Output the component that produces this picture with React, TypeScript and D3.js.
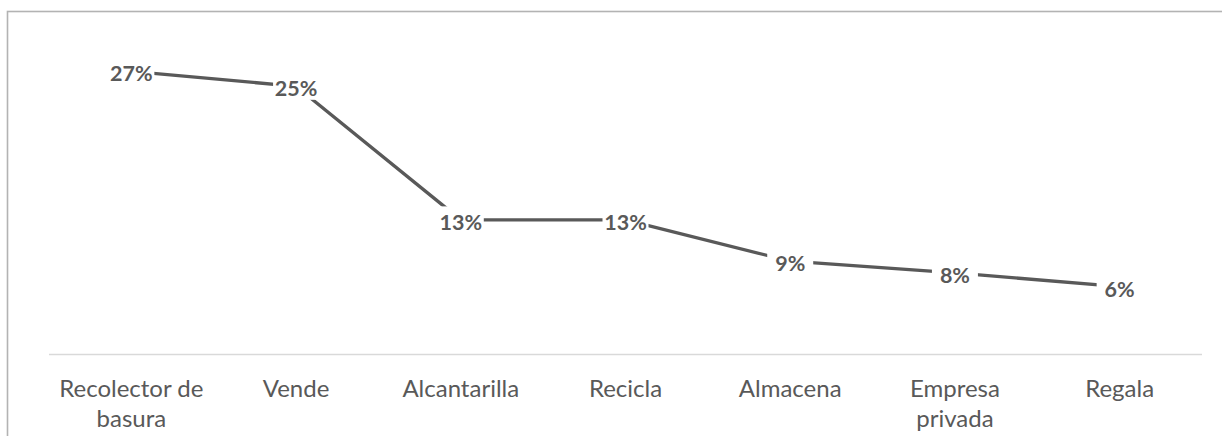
import React from "react";
import * as d3 from "d3";

// Destination of collected waste, share of responses
const categories = [
  "Recolector de basura",
  "Vende",
  "Alcantarilla",
  "Recicla",
  "Almacena",
  "Empresa privada",
  "Regala",
];
const shares = [26.7, 25.3, 12.7, 12.7, 8.8, 7.7, 6.4];
// Axis labels split into lines as they wrap under each category
const categoryLines = [
  ["Recolector de", "basura"],
  ["Vende"],
  ["Alcantarilla"],
  ["Recicla"],
  ["Almacena"],
  ["Empresa", "privada"],
  ["Regala"],
];
const yDomain = [0, 30];

const W = 1222;
const H = 436;
const FONT = "Lato, 'Open Sans', sans-serif";
const INK = "#595959";

export default function App() {
  const x = d3
    .scalePoint<string>()
    .domain(categories)
    .range([49, 1202])
    .padding(0.5);
  const y = d3.scaleLinear().domain(yDomain).range([354.5, 36.5]);

  const points = categories.map((c, i) => ({
    cat: c,
    v: shares[i],
    px: x(c) as number,
    py: y(shares[i]),
  }));

  const line = d3
    .line<{ px: number; py: number }>()
    .x((d) => d.px)
    .y((d) => d.py);

  const boxW = 46;
  const boxH = 27;

  return (
    <svg
      width={W}
      height={H}
      viewBox={`0 0 ${W} ${H}`}
      style={{ position: "absolute", left: 0, top: 0, background: "#fff" }}
    >
      <rect x={0} y={0} width={W} height={H} fill="#ffffff" />
      {/* chart frame, open to the right and bottom */}
      <rect
        x={7.5}
        y={11.5}
        width={W + 20}
        height={H + 20}
        fill="none"
        stroke="#b3b3b3"
        strokeWidth={1.6}
      />
      {/* category axis */}
      <line
        x1={x.range()[0]}
        x2={x.range()[1]}
        y1={y(0)}
        y2={y(0)}
        stroke="#d9d9d9"
        strokeWidth={1.5}
      />
      {categories.map((c, i) => (
        <text
          key={c}
          x={x(c) as number}
          y={y(0) + 42}
          textAnchor="middle"
          fontFamily={FONT}
          fontSize={24}
          fill={INK}
        >
          {categoryLines[i].map((ln, j) => (
            <tspan key={j} x={x(c) as number} dy={j === 0 ? 0 : 30}>
              {ln}
            </tspan>
          ))}
        </text>
      ))}
      {/* series line */}
      <path
        d={line(points) ?? ""}
        fill="none"
        stroke={INK}
        strokeWidth={3.3}
        strokeLinejoin="round"
      />
      {/* data labels on white boxes */}
      {points.map((p) => (
        <g key={p.cat}>
          <rect
            x={p.px - boxW / 2}
            y={p.py - boxH / 2}
            width={boxW}
            height={boxH}
            fill="#ffffff"
          />
          <text
            x={p.px}
            y={p.py + 10}
            textAnchor="middle"
            fontFamily={FONT}
            fontSize={21.5}
            fontWeight="bold"
            fill={INK}
          >
            {`${Math.round(p.v)}%`}
          </text>
        </g>
      ))}
    </svg>
  );
}
